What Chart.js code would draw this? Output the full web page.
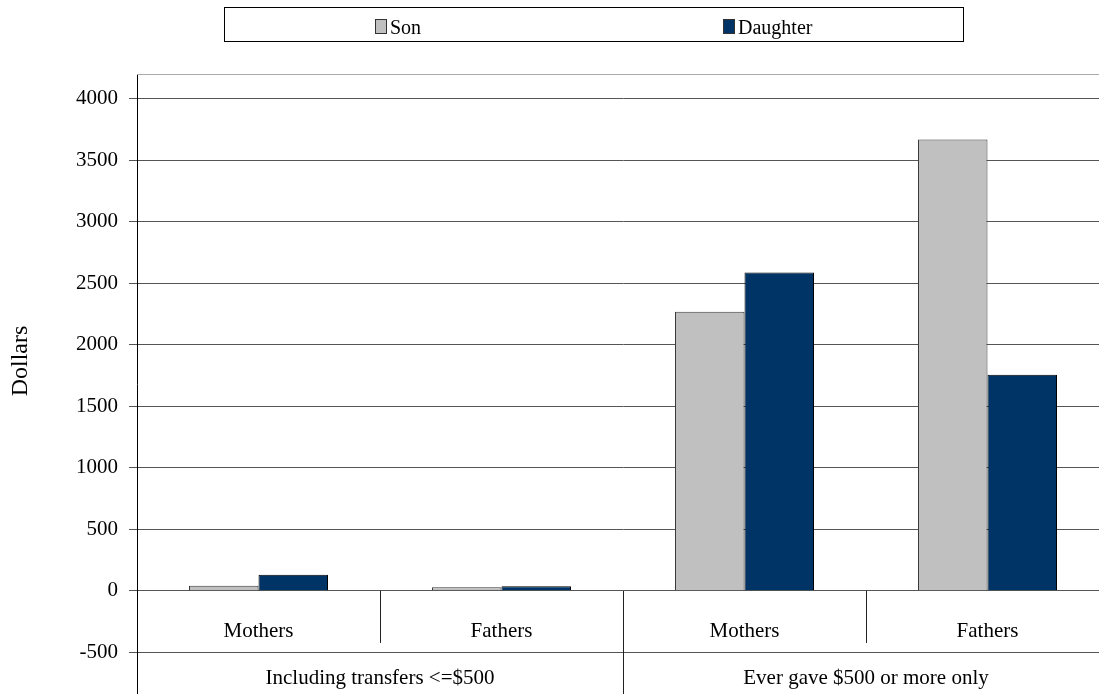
<!DOCTYPE html>
<html>
<head>
<meta charset="utf-8">
<script src="https://cdn.jsdelivr.net/npm/chart.js@4"></script>
<style>
  html, body { margin: 0; padding: 0; background: #fff; overflow: hidden; }
  #chart { display: block; }
</style>
</head>
<body>
<canvas id="chart" width="1110" height="694"></canvas>
<script>
// Category labels (inner row) and their outer grouping
const categories = ['Mothers', 'Fathers', 'Mothers', 'Fathers'];
const groupLabels = ['Including transfers <=$500', 'Ever gave $500 or more only'];
const groupSizes = [2, 2];

// Average transfer amounts, dollars
const seriesNames = ['Son', 'Daughter'];
const sonValues = [40, 28, 2268, 3667];
const daughterValues = [130, 36, 2587, 1755];

// Value axis
const yTickValues = [-500, 0, 500, 1000, 1500, 2000, 2500, 3000, 3500, 4000];
const yTitle = 'Dollars';

const FONT = '"Liberation Serif", "Times New Roman", serif';

// Category labels drawn inside the plot between 0 and -500, group labels below -500
const categoryRows = {
  id: 'categoryRows',
  beforeDatasetsDraw(chart) {
    const { ctx, chartArea } = chart;
    ctx.save();
    ctx.strokeStyle = '#aaaaaa';
    ctx.lineWidth = 1;
    ctx.beginPath();
    ctx.moveTo(chartArea.left, chartArea.top + 0.5);
    ctx.lineTo(chartArea.right, chartArea.top + 0.5);
    ctx.stroke();
    ctx.restore();
  },
  afterDraw(chart) {
    const { ctx, chartArea, scales } = chart;
    const x = scales.x, y = scales.y;
    const y0 = y.getPixelForValue(0);
    const y1 = y.getPixelForValue(-500);
    const half = (x.getPixelForValue(1) - x.getPixelForValue(0)) / 2;
    ctx.save();
    ctx.fillStyle = '#000';
    ctx.strokeStyle = '#222';
    ctx.lineWidth = 1;
    ctx.font = '21px ' + FONT;
    ctx.textAlign = 'center';
    ctx.textBaseline = 'alphabetic';
    categories.forEach((c, i) => {
      ctx.fillText(c, x.getPixelForValue(i), y0 + (y1 - y0) * 0.75);
    });
    // separators
    let idx = 0;
    const groupEnds = [];
    groupSizes.forEach(s => { idx += s; groupEnds.push(idx); });
    for (let i = 1; i < categories.length; i++) {
      const sx = Math.round(x.getPixelForValue(i) - half) + 0.5;
      const isGroupEdge = groupEnds.includes(i);
      ctx.beginPath();
      ctx.moveTo(sx, y0);
      ctx.lineTo(sx, isGroupEdge ? chartArea.bottom : y0 + (y1 - y0) * 0.85);
      ctx.stroke();
    }
    // group labels
    let start = 0;
    groupLabels.forEach((g, gi) => {
      const end = start + groupSizes[gi] - 1;
      const left = x.getPixelForValue(start) - half;
      const right = x.getPixelForValue(end) + half;
      ctx.fillText(g, (left + right) / 2, y1 + 32);
      start = end + 1;
    });
    // axis title
    ctx.save();
    ctx.translate(27, 361);
    ctx.rotate(-Math.PI / 2);
    ctx.font = '24px ' + FONT;
    ctx.fillText(yTitle, 0, 0);
    ctx.restore();
    ctx.restore();
  }
};

// Boxed legend above the plot
const boxedLegend = {
  id: 'boxedLegend',
  afterDraw(chart) {
    const { ctx } = chart;
    ctx.save();
    ctx.strokeStyle = '#000';
    ctx.lineWidth = 1;
    ctx.strokeRect(224.5, 7.5, 739, 34);
    const itemX = [375, 723];
    ctx.font = '20px ' + FONT;
    ctx.textAlign = 'left';
    ctx.textBaseline = 'alphabetic';
    chart.data.datasets.forEach((ds, i) => {
      ctx.fillStyle = ds.backgroundColor;
      ctx.fillRect(itemX[i], 19, 12, 15);
      ctx.strokeStyle = '#333';
      ctx.strokeRect(itemX[i] + 0.5, 19.5, 11, 14);
      ctx.fillStyle = '#000';
      ctx.fillText(ds.label, itemX[i] + 15, 34);
    });
    ctx.restore();
  }
};

new Chart(document.getElementById('chart'), {
  type: 'bar',
  data: {
    labels: categories,
    datasets: [
      { label: seriesNames[0], data: sonValues, backgroundColor: '#c0c0c0', borderColor: '#3a3a3a', borderWidth: 1 },
      { label: seriesNames[1], data: daughterValues, backgroundColor: '#003366', borderColor: '#000000', borderWidth: 1 }
    ]
  },
  options: {
    responsive: false,
    animation: false,
    layout: { padding: { top: 74, right: 1, bottom: 0, left: 0 } },
    datasets: { bar: { categoryPercentage: 0.572, barPercentage: 1 } },
    plugins: { legend: { display: false }, tooltip: { enabled: false } },
    scales: {
      x: { display: false },
      y: {
        min: -840,
        max: 4200,
        afterBuildTicks(scale) { scale.ticks = yTickValues.map(v => ({ value: v })); },
        afterFit(scale) {
          scale.width = 137;
          scale.paddingTop = 0;
          scale.paddingBottom = 0;
        },
        border: { display: true, color: '#000', width: 1 },
        grid: { color: '#555555', lineWidth: 1, tickLength: 8, drawTicks: true },
        ticks: {
          color: '#000',
          padding: 11,
          font: { family: FONT, size: 21 },
          callback: (v) => String(v)
        }
      }
    }
  },
  plugins: [categoryRows, boxedLegend]
});
</script>
</body>
</html>
